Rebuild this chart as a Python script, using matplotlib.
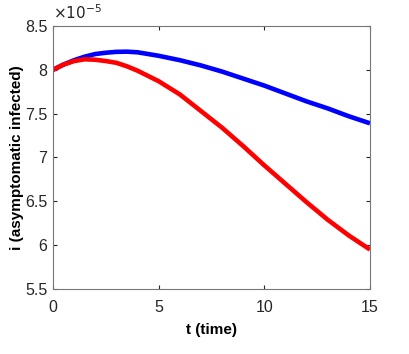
import matplotlib
matplotlib.use("Agg")
import matplotlib.pyplot as plt
import numpy as np

# values (i in units of 1e-5)
t = [0, 0.5, 1, 1.5, 2, 2.5, 3, 3.5, 4, 5, 6, 7, 8, 9, 10, 11, 12, 13, 14, 15]
i_blue = [8.00, 8.06, 8.11, 8.15, 8.18, 8.195, 8.205, 8.207, 8.20, 8.16, 8.11, 8.05,
          7.98, 7.90, 7.82, 7.73, 7.64, 7.56, 7.47, 7.39]
i_red = [8.00, 8.06, 8.10, 8.12, 8.115, 8.10, 8.08, 8.04, 7.99, 7.87, 7.72, 7.53,
         7.34, 7.13, 6.91, 6.70, 6.49, 6.29, 6.11, 5.95]

x_ticks = [0, 5, 10, 15]
y_ticks = [5.5, 6, 6.5, 7, 7.5, 8, 8.5]

plt.rcParams["font.family"] = ["Liberation Sans", "DejaVu Sans"]

fig = plt.figure(figsize=(4.09, 3.54), dpi=100)
ax = fig.add_axes([0.1296, 0.1836, 0.775, 0.743])

ax.plot(t, i_blue, color="#0000ff", lw=3.3, solid_capstyle="butt")
ax.plot(t, i_red, color="#ff0000", lw=3.3, solid_capstyle="butt")

ax.set_xlim(0, 15)
ax.set_ylim(5.5, 8.5)
ax.set_xticks(x_ticks)
ax.set_yticks(y_ticks)
ax.set_yticklabels([f"{v:g}" for v in y_ticks])
ax.tick_params(direction="in", top=True, right=True, length=3, width=0.8,
               colors="#262626", labelsize=11.5, labelcolor="#262626")
ax.tick_params(axis="x", pad=8)
ax.tick_params(axis="y", pad=4)
for s in ax.spines.values():
    s.set_color("#777777")
    s.set_linewidth(0.8)

ax.set_xlabel("t (time)", fontsize=11, fontweight="bold", labelpad=6)
ax.set_ylabel("i (asymptomatic infected)", fontsize=11, fontweight="bold", labelpad=1)
ax.text(0.0, 1.015, r"$\times10^{-5}$", transform=ax.transAxes, fontsize=11,
        ha="left", va="bottom", color="#262626", math_fontfamily="dejavusans")

fig.savefig("out.png", dpi=100, facecolor="white")
